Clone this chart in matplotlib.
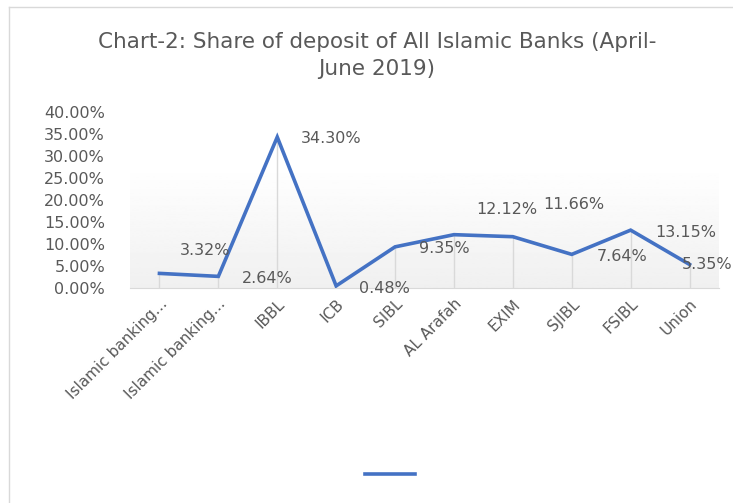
"""
Chart-2: share of deposit of all Islamic banks, Apr-Jun 2019.
"""

import numpy as np
import matplotlib
matplotlib.use('Agg')
import matplotlib.pyplot as plt
from matplotlib.lines import Line2D

plt.rcParams['font.family'] = ['DejaVu Sans']

BANKS = ['Islamic banking…', 'Islamic banking…', 'IBBL', 'ICB', 'SIBL',
         'AL Arafah', 'EXIM', 'SJIBL', 'FSIBL', 'Union']
SHARE = [3.32, 2.64, 34.30, 0.48, 9.35, 12.12, 11.66, 7.64, 13.15, 5.35]
Y_TICKS = [0, 5, 10, 15, 20, 25, 30, 35, 40]

# excel put the data labels in odd places, offsets in pixels (dx, dy)
LABEL_OFFSETS = [(46, 23), (49, -2), (54, -1), (48, -3), (49, -2),
                 (53, 25), (61, 32), (50, -2), (55, -2), (18, 0)]

LINE_COLOR = '#4472C4'
TEXT_COLOR = '#595959'

fig = plt.figure(figsize=(7.33, 5.03), dpi=100)
# axes in pixels: x 130..719, y 112..288 (from top)
ax = fig.add_axes([130 / 733, 1 - 288 / 503, 589 / 733, 176 / 503])

x = np.arange(len(BANKS))

# floor gradient of the 3d-ish plot area
grad = np.linspace(0.94, 1.0, 100).reshape(-1, 1)
ax.imshow(grad, cmap='gray', vmin=0, vmax=1, aspect='auto',
          extent=[0, 1, 0, 123 / 176], origin='lower',
          transform=ax.transAxes, zorder=0)

ax.vlines(x, 0, SHARE, color='#d9d9d9', lw=1, zorder=1)
ax.plot(x, SHARE, color=LINE_COLOR, lw=2.6, zorder=3, solid_joinstyle='miter')

for xi, v, (dx, dy) in zip(x, SHARE, LABEL_OFFSETS):
    ax.annotate(f'{v:.2f}%', (xi, v), xytext=(dx, dy), textcoords='offset pixels',
                ha='center', va='center', fontsize=11.5, color=TEXT_COLOR, zorder=4)

ax.set_xlim(-0.5, len(BANKS) - 0.5)
ax.set_ylim(0, 40)
ax.set_yticks(Y_TICKS)
ax.set_yticklabels([f'{t:.2f}%' for t in Y_TICKS], fontsize=11.5, color=TEXT_COLOR)
ax.set_xticks(x)
ax.set_xticklabels(BANKS, rotation=45, ha='right', rotation_mode='anchor',
                   fontsize=11, color=TEXT_COLOR)
ax.tick_params(axis='y', length=0, pad=18)
ax.tick_params(axis='x', length=0, pad=6)
for s in ['top', 'right', 'left']:
    ax.spines[s].set_visible(False)
ax.spines['bottom'].set_color('#d9d9d9')
ax.patch.set_alpha(0)

fig.suptitle('Chart-2: Share of deposit of All Islamic Banks (April-\nJune 2019)',
             x=377 / 733, y=1 - 32 / 503, va='top', fontsize=15.5, color=TEXT_COLOR,
             linespacing=1.45)

# legend with an empty series name
fig.legend([Line2D([], [], color=LINE_COLOR, lw=2.6)], [''], loc='center',
           bbox_to_anchor=(390 / 733, 1 - 475 / 503), frameon=False,
           handlelength=3.6, handletextpad=0)

# chart border
fig.add_artist(Line2D([9 / 733, 1], [1 - 7 / 503] * 2, color='#d9d9d9', lw=1))
fig.add_artist(Line2D([9 / 733] * 2, [0, 1 - 7 / 503], color='#d9d9d9', lw=1))

fig.savefig('out.png', dpi=100)
